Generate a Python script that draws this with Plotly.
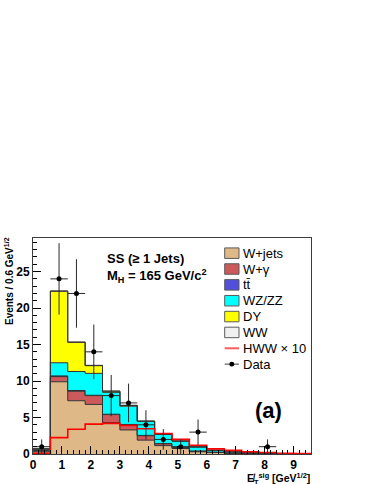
import plotly.graph_objects as go

# ---- data ----
bin_edges = [0.0, 0.6, 1.2, 1.8, 2.4, 3.0, 3.6, 4.2, 4.8, 5.4, 6.0, 6.6, 7.2, 7.8, 8.4, 9.0, 9.6]
wjets = [0.30, 9.9, 7.3, 6.8, 4.3, 3.3, 1.9, 1.15, 0.75, 0.30, 0.20, 0.10, 0.10, 0.05, 0.02, 0.01]
wgamma = [0.15, 0.7, 1.3, 1.2, 1.1, 0.7, 0.6, 0.25, 0.15, 0.10, 0.05, 0.03, 0.02, 0.01, 0.0, 0.0]
ttbar = [0.05, 0.1, 0.1, 0.05, 0.05, 0.05, 0.05, 0.03, 0.02, 0.02, 0.01, 0.01, 0.0, 0.0, 0.0, 0.0]
wzzz = [0.15, 1.8, 2.6, 3.0, 3.0, 2.5, 1.9, 1.25, 0.85, 0.55, 0.25, 0.15, 0.08, 0.04, 0.02, 0.01]
dy = [0.05, 9.8, 4.0, 1.05, 0.15, 0.1, 0.05, 0.02, 0.0, 0.0, 0.0, 0.0, 0.0, 0.0, 0.0, 0.0]
ww = [0.02, 0.05, 0.05, 0.05, 0.03, 0.02, 0.02, 0.01, 0.01, 0.0, 0.0, 0.0, 0.0, 0.0, 0.0, 0.0]
hww10 = [0.1, 2.25, 3.4, 4.1, 4.2, 3.9, 3.45, 2.8, 2.0, 1.2, 0.7, 0.5, 0.3, 0.2, 0.1, 0.05]
data = [1, 24, 22, 14, 8, 7, 4, 2, 1, 3, 0, 0, 0, 1, 0, 0]

legend_labels = ["W+jets", "W+γ", "tt̄", "WZ/ZZ", "DY", "WW", "HWW × 10", "Data"]
x_ticks = [0, 1, 2, 3, 4, 5, 6, 7, 8, 9]
y_ticks = [0, 5, 10, 15, 20, 25]

# ---- styles ----
FONT = "Liberation Sans, Arial, Helvetica, sans-serif"
stack_defs = [
    ("W+jets", wjets, "rgb(222,184,135)"),
    ("W+γ", wgamma, "rgb(205,90,90)"),
    ("tt̄", ttbar, "rgb(80,80,220)"),
    ("WZ/ZZ", wzzz, "rgb(0,255,255)"),
    ("DY", dy, "rgb(255,255,0)"),
    ("WW", ww, "rgb(240,240,240)"),
]

fig = go.Figure()
for name, vals, col in stack_defs:
    fig.add_trace(go.Scatter(
        x=bin_edges, y=list(vals) + [vals[-1]],
        stackgroup="bkg", line_shape="hv",
        line=dict(color="rgb(50,50,50)", width=1),
        fillcolor=col, mode="lines", name=name, showlegend=False,
        hoverinfo="skip"))

fig.add_trace(go.Scatter(
    x=bin_edges, y=list(hww10) + [hww10[-1]], line_shape="hv",
    mode="lines", line=dict(color="rgb(255,0,0)", width=1.6),
    name="HWW × 10", showlegend=False))

centers = [(bin_edges[i] + bin_edges[i + 1]) / 2 for i in range(len(data))]
half_w = [(bin_edges[i + 1] - bin_edges[i]) / 2 for i in range(len(data))]
dx = [c for c, d in zip(centers, data) if d > 0]
dy_ = [d for d in data if d > 0]
dex = [h for h, d in zip(half_w, data) if d > 0]
dey = [d ** 0.5 for d in dy_]
fig.add_trace(go.Scatter(
    x=dx, y=dy_, mode="markers",
    marker=dict(color="black", size=5),
    error_y=dict(type="data", array=dey, width=0, color="rgb(40,40,40)", thickness=1),
    error_x=dict(type="data", array=dex, width=0, color="rgb(40,40,40)", thickness=1),
    name="Data", showlegend=False))

# ---- layout geometry ----
W, H = 374, 484
ml, mr, mt, mb = 33, 63, 238, 28
pw, ph = W - ml - mr, H - mt - mb


def px2x(px):
    return (px - ml) / pw


def py2y(py):
    return (H - mb - py) / ph


shapes = []
annotations = []
box_x0, box_x1 = 224.7, 239.0
row0, row_dy = 253.3, 16.0
for i, lab in enumerate(legend_labels):
    cy = row0 + i * row_dy
    if i < 6:
        col = stack_defs[i][2]
        shapes.append(dict(type="rect", xref="paper", yref="paper",
                           x0=px2x(box_x0), x1=px2x(box_x1),
                           y0=py2y(cy + 5.3), y1=py2y(cy - 5.3),
                           fillcolor=col, line=dict(color="rgb(90,90,90)", width=1)))
    elif i == 6:
        shapes.append(dict(type="line", xref="paper", yref="paper",
                           x0=px2x(box_x0), x1=px2x(box_x1),
                           y0=py2y(cy), y1=py2y(cy),
                           line=dict(color="rgb(255,90,90)", width=2)))
    else:
        shapes.append(dict(type="line", xref="paper", yref="paper",
                           x0=px2x(box_x0), x1=px2x(box_x1),
                           y0=py2y(cy), y1=py2y(cy),
                           line=dict(color="rgb(60,60,60)", width=1)))
        shapes.append(dict(type="circle", xref="paper", yref="paper",
                           x0=px2x(231.8 - 2.5), x1=px2x(231.8 + 2.5),
                           y0=py2y(cy + 2.5), y1=py2y(cy - 2.5),
                           fillcolor="black", line=dict(color="black", width=0)))
    annotations.append(dict(text=lab, xref="paper", yref="paper",
                            x=px2x(241), y=py2y(cy), xanchor="left", yanchor="middle",
                            showarrow=False, font=dict(family=FONT, size=13, color="black")))

annotations += [
    dict(text="SS (≥ 1 Jets)", xref="paper", yref="paper", x=px2x(105), y=py2y(258.3),
         xanchor="left", yanchor="middle", showarrow=False,
         font=dict(family=FONT, size=13, color="black", weight="bold")),
    dict(text="M<sub>H</sub> = 165 GeV/c<sup>2</sup>", xref="paper", yref="paper",
         x=px2x(105), y=py2y(276), xanchor="left", yanchor="middle", showarrow=False,
         font=dict(family=FONT, size=13, color="black", weight="bold")),
    dict(text="(a)", xref="paper", yref="paper", x=px2x(268), y=py2y(411.7),
         xanchor="center", yanchor="middle", showarrow=False,
         font=dict(family=FONT, size=22, color="black", weight="bold")),
    dict(text="E̸<sub>T</sub><sup>sig</sup> [GeV<sup>1/2</sup>]", xref="paper", yref="paper",
         x=1.0, y=py2y(472), xanchor="right", yanchor="top", showarrow=False,
         borderpad=0,
         font=dict(family=FONT, size=10.5, color="black", weight="bold")),
    dict(text="Events / 0.6 GeV<sup>1/2</sup>", xref="paper", yref="paper",
         x=px2x(9), y=py2y(235), xanchor="center", yanchor="top", textangle=-90,
         showarrow=False, font=dict(family=FONT, size=10, color="black", weight="bold")),
]

fig.update_layout(
    width=W, height=H,
    margin=dict(l=ml, r=mr, t=mt, b=mb),
    paper_bgcolor="white", plot_bgcolor="white",
    showlegend=False,
    shapes=shapes, annotations=annotations,
    xaxis=dict(range=[0, 9.6], tickvals=x_ticks, ticks="inside", ticklen=8,
               tickcolor="black", showgrid=False, zeroline=False,
               showline=True, linecolor="rgb(60,60,60)", linewidth=1, mirror=True,
               tickfont=dict(family=FONT, size=12, color="black", weight="bold"),
               minor=dict(ticks="inside", ticklen=4, dtick=0.2, tickcolor="black", showgrid=False)),
    yaxis=dict(range=[0, 29.6], tickvals=y_ticks, ticks="inside", ticklen=8,
               tickcolor="black", showgrid=False, zeroline=False,
               showline=True, linecolor="rgb(60,60,60)", linewidth=1, mirror=True,
               tickfont=dict(family=FONT, size=12, color="black", weight="bold"),
               minor=dict(ticks="inside", ticklen=4, dtick=1, tickcolor="black", showgrid=False)),
)

fig.write_html("out.html", config={"displayModeBar": False},
               post_script="document.body.style.margin='0';")
